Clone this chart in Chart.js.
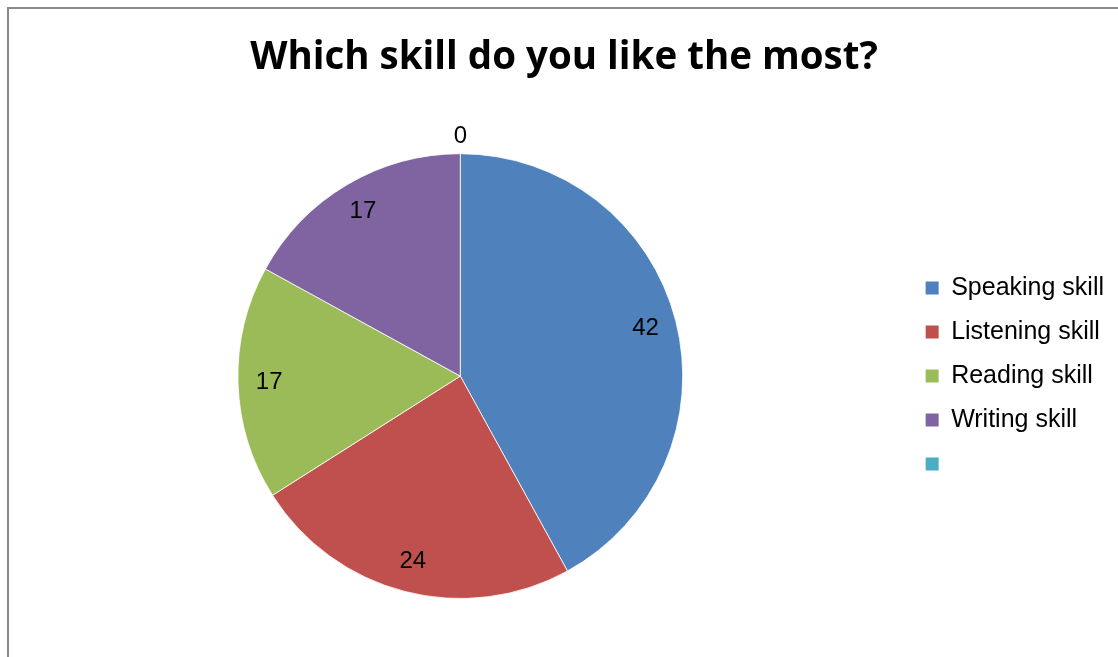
<!DOCTYPE html>
<html lang="en">
<head>
    <meta charset="UTF-8">
    <title>Which skill do you like the most?</title>
    <script src="https://cdn.jsdelivr.net/npm/chart.js@4/dist/chart.umd.min.js"></script>
    <style>
        body{margin:0; background:#fff; overflow:hidden;}
        #frame{position:absolute; left:7px; top:7px; width:1200px; height:700px; border:2px solid #898989;}
        #myChart{position:absolute; left:0; top:0;}
    </style>
    <script>
        const skills = ['Speaking skill', 'Listening skill', 'Reading skill', 'Writing skill', '']
        const answers = [42, 24, 17, 17, 0]
        const sliceColors = ['#4F81BD', '#C0504D', '#9BBB59', '#8064A2', '#4BACC6']

        // value labels drawn on each slice, zero slice gets its label outside
        const valueLabels = {
            id: 'valueLabels',
            afterDatasetsDraw(chart){
                const ctx = chart.ctx
                const meta = chart.getDatasetMeta(0)
                ctx.save()
                ctx.font = '24px "Liberation Sans", Arial, sans-serif'
                ctx.fillStyle = '#000'
                ctx.textAlign = 'center'
                ctx.textBaseline = 'middle'
                meta.data.forEach(function(arc, i){
                    const p = arc.getProps(['x', 'y', 'startAngle', 'endAngle', 'outerRadius'], true)
                    const mid = (p.startAngle + p.endAngle) / 2
                    const r = answers[i] > 0 ? p.outerRadius * 0.86 : p.outerRadius + 17
                    if(i == 4 || answers[i] > 0){
                        ctx.fillText(String(answers[i]), p.x + Math.cos(mid) * r, p.y + Math.sin(mid) * r)
                    }
                })
                ctx.restore()
            }
        }

        window.onload = function(){
            const ctx = document.getElementById('myChart').getContext('2d')
            const defaultLabels = Chart.overrides.pie.plugins.legend.labels.generateLabels
            const myChart = new Chart(ctx, {
                type: 'pie',
                data: {
                    labels: skills,
                    datasets: [{
                        data: answers,
                        backgroundColor: sliceColors,
                        borderColor: 'rgba(255,255,255,0.8)',
                        borderWidth: 1
                    }]
                },
                options: {
                    responsive: false,
                    animation: false,
                    devicePixelRatio: 1,
                    layout: {
                        padding: {left: 14, right: 4, top: 0, bottom: 58}
                    },
                    plugins: {
                        title: {
                            display: true,
                            text: 'Which skill do you like the most?',
                            color: '#000',
                            font: {family: '"Open Sans"', size: 38.5, weight: 'bold'},
                            padding: {top: 35, bottom: 72}
                        },
                        legend: {
                            position: 'right',
                            fullSize: false,
                            labels: {
                                color: '#000',
                                font: {family: '"Liberation Sans", Arial, sans-serif', size: 25},
                                boxWidth: 13,
                                boxHeight: 13,
                                padding: 19,
                                generateLabels: function(chart){
                                    return defaultLabels(chart).map(function(item){
                                        item.lineWidth = 0
                                        return item
                                    })
                                }
                            }
                        },
                        tooltip: {enabled: false}
                    }
                },
                plugins: [valueLabels]
            })//chart
        }
    </script>
</head>
<body>
    <div id="frame"></div>
    <canvas id="myChart" width="1118" height="657"></canvas>
</body>
</html>
